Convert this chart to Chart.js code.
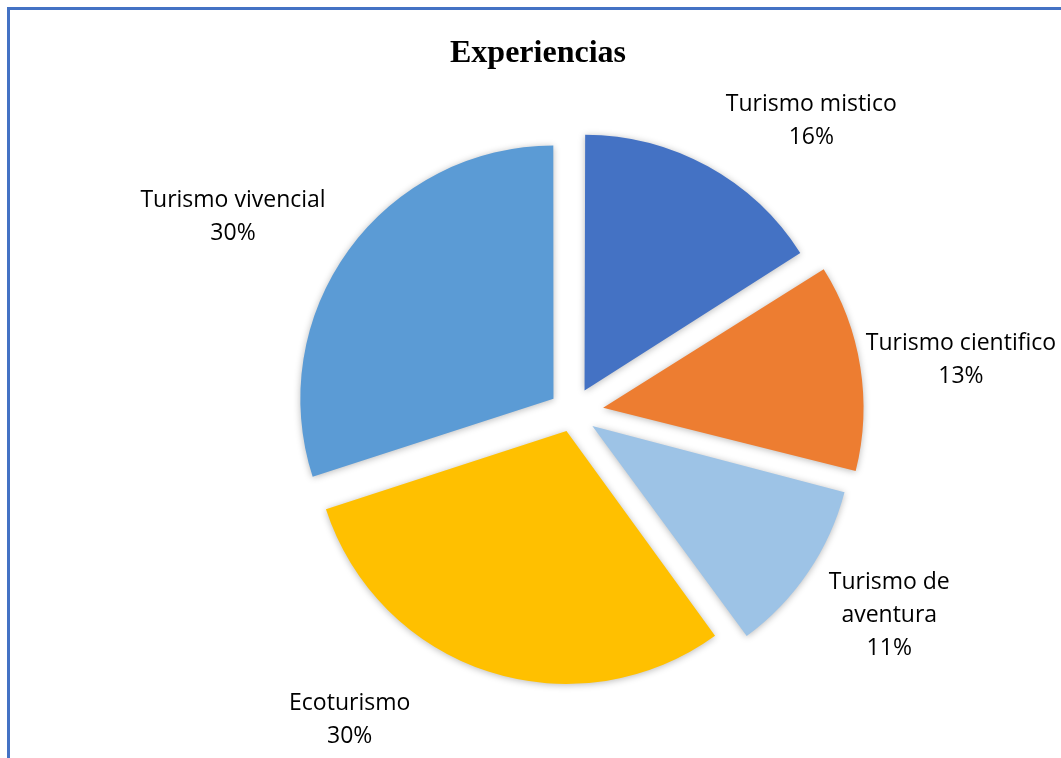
<!DOCTYPE html>
<html>
<head>
<meta charset="utf-8">
<title>Experiencias</title>
<script src="https://cdn.jsdelivr.net/npm/chart.js@4.4.1/dist/chart.umd.min.js"></script>
<style>
  body { margin: 0; background: #fff; }
  #wrap { position: relative; width: 1061px; height: 758px; overflow: hidden; }
  #frame { position: absolute; left: 7px; top: 7px; width: 1100px; height: 800px;
           border-top: 3px solid #4472c4; border-left: 3px solid #4472c4; }
  canvas { position: absolute; left: 0; top: 0; }
</style>
</head>
<body>
<div id="wrap">
  <div id="frame"></div>
  <canvas id="chart" width="1061" height="758"></canvas>
</div>
<script>
const categories = ['Turismo mistico', 'Turismo cientifico', 'Turismo de aventura', 'Ecoturismo', 'Turismo vivencial'];
const shares = [16, 13, 11, 30, 30];
const colors = ['#4472c4', '#ed7d31', '#9dc3e6', '#ffc000', '#5b9bd5'];

// how far each slice is pulled out, px (chart.js divides arc offset by 4)
const explode = [25, 31, 24, 19.5, 23.5];

// data label spots: angle from 12 o'clock (deg), distance from pie centre (px), wrap width
const labelSpots = [
  { angle: 39.3, dist: 377, wrap: 300 },
  { angle: 82.3, dist: 392, wrap: 300 },
  { angle: 122.6, dist: 376, wrap: 140 },
  { angle: 215.9, dist: 380, wrap: 300 },
  { angle: 300.0, dist: 392, wrap: 300 }
];

const lineH = 33;

function wrapText(ctx, text, maxW) {
  const words = text.split(' ');
  const lines = [];
  let cur = '';
  words.forEach(w => {
    const test = cur ? cur + ' ' + w : w;
    if (cur && ctx.measureText(test).width > maxW) {
      lines.push(cur);
      cur = w;
    } else {
      cur = test;
    }
  });
  if (cur) lines.push(cur);
  return lines;
}

const pieDecor = {
  id: 'pieDecor',
  beforeDatasetsDraw(chart) {
    const ctx = chart.ctx;
    ctx.save();
    ctx.shadowColor = 'rgba(0,0,0,0.28)';
    ctx.shadowBlur = 7;
    ctx.shadowOffsetY = 1;
  },
  afterDatasetsDraw(chart) {
    const ctx = chart.ctx;
    ctx.restore();

    const arcs = chart.getDatasetMeta(0).data;
    const total = shares.reduce((a, b) => a + b, 0);

    ctx.save();
    ctx.fillStyle = '#000';
    ctx.textAlign = 'center';
    ctx.textBaseline = 'middle';

    // title
    ctx.font = 'bold 32px "Liberation Serif", "Times New Roman", serif';
    ctx.fillText('Experiencias', 538, 54);

    // data labels
    ctx.font = '23px "Open Sans", sans-serif';
    arcs.forEach((arc, i) => {
      const spot = labelSpots[i];
      const a = spot.angle * Math.PI / 180;
      const cx = arc.x + Math.sin(a) * spot.dist;
      const cy = arc.y - Math.cos(a) * spot.dist;
      const lines = wrapText(ctx, categories[i], spot.wrap);
      lines.push(Math.round(shares[i] / total * 100) + '%');
      const top = cy - (lines.length - 1) * lineH / 2;
      lines.forEach((t, k) => ctx.fillText(t, cx, top + k * lineH));
    });
    ctx.restore();
  }
};

new Chart(document.getElementById('chart'), {
  type: 'pie',
  data: {
    labels: categories,
    datasets: [{
      data: shares,
      backgroundColor: colors,
      borderWidth: 0,
      offset: explode.map(v => v * 4)
    }]
  },
  options: {
    responsive: false,
    animation: false,
    events: [],
    radius: 252,
    layout: { padding: { left: 84, top: 67, right: 0, bottom: 0 } },
    plugins: {
      legend: { display: false },
      tooltip: { enabled: false },
      title: { display: false }
    }
  },
  plugins: [pieDecor]
});
</script>
</body>
</html>
